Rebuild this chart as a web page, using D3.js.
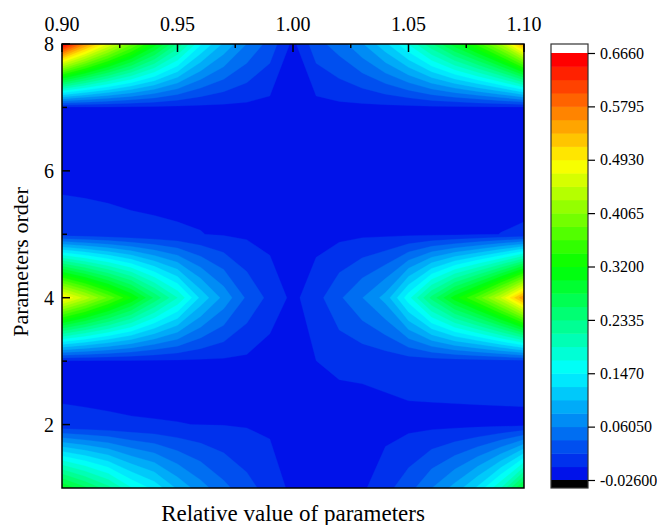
<!DOCTYPE html>
<html>
<head>
<meta charset="utf-8">
<script src="https://cdn.jsdelivr.net/npm/d3@7"></script>
<style>
  body { margin: 0; background: #fff; }
  text { font-family: "Liberation Serif", "Times New Roman", serif; fill: #000; }
</style>
</head>
<body>
<script>
// grid of the contour plot
const xValues = [0.90, 0.91, 0.92, 0.93, 0.94, 0.95, 0.96, 0.97, 0.98, 0.99, 1.00,
                 1.01, 1.02, 1.03, 1.04, 1.05, 1.06, 1.07, 1.08, 1.09, 1.10];
const orders = [1, 2, 3, 4, 5, 6, 7, 8];

// one row of values per parameter order
const z1 = [0.30, 0.26, 0.22, 0.17, 0.14, 0.10, 0.07, 0.045, 0.025, 0.008, -0.01,
            -0.015, -0.02, -0.008, 0.01, 0.03, 0.06, 0.09, 0.13, 0.19, 0.29];
const z2 = [-0.0026, -0.003, -0.0034, -0.0038, -0.004, -0.0042, -0.0045, -0.005, -0.006, -0.008, -0.012,
            -0.015, -0.015, -0.014, -0.012, -0.01, -0.01, -0.01, -0.01, -0.01, -0.01];
const z3 = [-0.008, -0.008, -0.008, -0.008, -0.008, -0.008, -0.008, -0.008, -0.009, -0.016, -0.02,
            -0.0045, 0.0, 0.001, 0.003, 0.005, 0.006, 0.007, 0.008, 0.009, 0.01];
const z4 = [0.50, 0.44, 0.38, 0.32, 0.25, 0.19, 0.12, 0.075, 0.035, 0.011, -0.01,
            0.009, 0.035, 0.06, 0.09, 0.16, 0.24, 0.31, 0.37, 0.45, 0.56];
const z5 = [0.005, 0.003, 0.001, -0.001, -0.002, -0.003, -0.004, -0.006, -0.008, -0.012, -0.015,
            -0.012, -0.01, -0.008, -0.008, -0.008, -0.008, -0.008, -0.006, -0.0042, -0.003];
const z6 = [-0.01, -0.01, -0.01, -0.01, -0.01, -0.01, -0.01, -0.011, -0.012, -0.013, -0.015,
            -0.013, -0.012, -0.011, -0.01, -0.01, -0.01, -0.01, -0.01, -0.01, -0.01];
const z7 = [-0.008, -0.008, -0.008, -0.009, -0.009, -0.01, -0.01, -0.01, -0.01, -0.012, -0.015,
            -0.012, -0.01, -0.01, -0.01, -0.01, -0.009, -0.009, -0.008, -0.008, -0.008];
const z8 = [0.666, 0.56, 0.47, 0.39, 0.31, 0.23, 0.15, 0.10, 0.06, 0.03, -0.01,
            0.03, 0.05, 0.08, 0.12, 0.17, 0.23, 0.29, 0.35, 0.43, 0.55];

// contour levels
const levelMin = -0.026;
const levelMax = 0.666;
const levelCount = 32;

// axes
const xTicks = [0.90, 0.95, 1.00, 1.05, 1.10];
const xMinorTicks = [0.925, 0.975, 1.025, 1.075];
const yTicks = [2, 4, 6, 8];
const yMinorTicks = [3, 5, 7];
const cbTickLabels = ["-0.02600", "0.06050", "0.1470", "0.2335", "0.3200", "0.4065", "0.4930", "0.5795", "0.6660"];

const palette = ["#0012ea", "#00ffff", "#00ff00", "#ffff00", "#ff0000"];
const serif = "'Liberation Serif', 'Times New Roman', serif";

const width = 657, height = 525;
const margin = {top: 44, right: 133, bottom: 37, left: 62};
const plotW = width - margin.left - margin.right;
const plotH = height - margin.top - margin.bottom;

const svg = d3.select("body").append("svg")
  .attr("width", width)
  .attr("height", height);

const x = d3.scaleLinear()
  .domain([xValues[0], xValues[xValues.length - 1]])
  .range([margin.left, margin.left + plotW]);
const y = d3.scaleLinear()
  .domain([orders[0], orders[orders.length - 1]])
  .range([margin.top + plotH, margin.top]);

const thresholds = d3.range(levelCount).map(k => levelMin + k * (levelMax - levelMin) / levelCount);
const paletteScale = d3.scaleLinear().domain([0, 0.25, 0.5, 0.75, 1]).range(palette);
const bandColor = k => paletteScale(k / (levelCount - 1));

// contours
const n = xValues.length, m = orders.length;
const values = [z1, z2, z3, z4, z5, z6, z7, z8].flat();
const contours = d3.contours().size([n, m]).thresholds(thresholds)(values);

const gx = d3.scaleLinear().domain([0.5, n - 0.5]).range([x(xValues[0]), x(xValues[n - 1])]);
const gy = d3.scaleLinear().domain([0.5, m - 0.5]).range([y(orders[0]), y(orders[m - 1])]);
const path = d3.geoPath(d3.geoTransform({
  point: function(px, py) { this.stream.point(gx(px), gy(py)); }
}));

svg.append("clipPath").attr("id", "plotClip")
  .append("rect")
  .attr("x", margin.left).attr("y", margin.top)
  .attr("width", plotW).attr("height", plotH);

svg.append("g")
  .attr("clip-path", "url(#plotClip)")
  .selectAll("path")
  .data(contours)
  .join("path")
  .attr("d", path)
  .attr("fill", (d, i) => bandColor(i))
  .attr("stroke", (d, i) => bandColor(i))
  .attr("stroke-width", 0.3);

// frame
svg.append("rect")
  .attr("x", margin.left).attr("y", margin.top)
  .attr("width", plotW).attr("height", plotH)
  .attr("fill", "none")
  .attr("stroke", "#000")
  .attr("stroke-width", 1.5);

// top axis
const topAxis = svg.append("g");
topAxis.selectAll(".maj").data(xTicks).join("line")
  .attr("class", "maj")
  .attr("x1", d => x(d)).attr("x2", d => x(d))
  .attr("y1", margin.top).attr("y2", margin.top + 8)
  .attr("stroke", "#000").attr("stroke-width", 1.5);
topAxis.selectAll(".min").data(xMinorTicks).join("line")
  .attr("class", "min")
  .attr("x1", d => x(d)).attr("x2", d => x(d))
  .attr("y1", margin.top).attr("y2", margin.top + 4)
  .attr("stroke", "#000").attr("stroke-width", 1.5);
topAxis.selectAll("text").data(xTicks).join("text")
  .attr("x", d => x(d))
  .attr("y", 31)
  .attr("text-anchor", "middle")
  .style("font-family", serif)
  .style("font-size", "20px")
  .text(d => d3.format(".2f")(d));

// left axis
const leftAxis = svg.append("g");
leftAxis.selectAll(".maj").data(yTicks).join("line")
  .attr("class", "maj")
  .attr("x1", margin.left).attr("x2", margin.left + 8)
  .attr("y1", d => y(d)).attr("y2", d => y(d))
  .attr("stroke", "#000").attr("stroke-width", 1.5);
leftAxis.selectAll(".min").data(yMinorTicks).join("line")
  .attr("class", "min")
  .attr("x1", margin.left).attr("x2", margin.left + 5)
  .attr("y1", d => y(d)).attr("y2", d => y(d))
  .attr("stroke", "#000").attr("stroke-width", 1.5);
leftAxis.selectAll("text").data(yTicks).join("text")
  .attr("x", 54)
  .attr("y", d => y(d) + 7)
  .attr("text-anchor", "end")
  .style("font-family", serif)
  .style("font-size", "20px")
  .text(d => d);

// axis titles
svg.append("text")
  .attr("transform", "translate(28,262) rotate(-90)")
  .attr("text-anchor", "middle")
  .style("font-family", serif)
  .style("font-size", "22px")
  .text("Parameters order");

svg.append("text")
  .attr("x", margin.left + plotW / 2)
  .attr("y", 521)
  .attr("text-anchor", "middle")
  .style("font-family", serif)
  .style("font-size", "23px")
  .text("Relative value of parameters");

// colour bar
const cbX = 551, cbW = 37, cbTop = 44, cbBottom = 488;
const cb = d3.scaleLinear().domain([levelMin, levelMax]).range([480, 53]);
const cbEdges = thresholds.concat([levelMax]);
const cbg = svg.append("g");
cbg.append("rect")
  .attr("x", cbX).attr("y", cbTop)
  .attr("width", cbW).attr("height", cb(levelMax) - cbTop)
  .attr("fill", "#fff");
cbg.selectAll(".band").data(thresholds).join("rect")
  .attr("class", "band")
  .attr("x", cbX)
  .attr("y", (d, i) => cb(cbEdges[i + 1]))
  .attr("width", cbW)
  .attr("height", (d, i) => cb(cbEdges[i]) - cb(cbEdges[i + 1]) + 0.5)
  .attr("fill", (d, i) => bandColor(i));
cbg.append("rect")
  .attr("x", cbX).attr("y", cb(levelMin))
  .attr("width", cbW).attr("height", cbBottom - cb(levelMin))
  .attr("fill", "#000");
cbg.append("rect")
  .attr("x", cbX).attr("y", cbTop)
  .attr("width", cbW).attr("height", cbBottom - cbTop)
  .attr("fill", "none")
  .attr("stroke", "#333")
  .attr("stroke-width", 1.2);

const cbAxis = svg.append("g")
  .attr("transform", `translate(${cbX + cbW},0)`)
  .call(d3.axisRight(cb)
    .tickValues(cbTickLabels.map(Number))
    .tickFormat((d, i) => cbTickLabels[i])
    .tickSize(7)
    .tickPadding(5));
cbAxis.select(".domain").remove();
cbAxis.selectAll("line").attr("stroke", "#000").attr("stroke-width", 1.2);
cbAxis.selectAll("text")
  .style("font-size", "16px")
  .style("font-family", serif);
</script>
</body>
</html>
